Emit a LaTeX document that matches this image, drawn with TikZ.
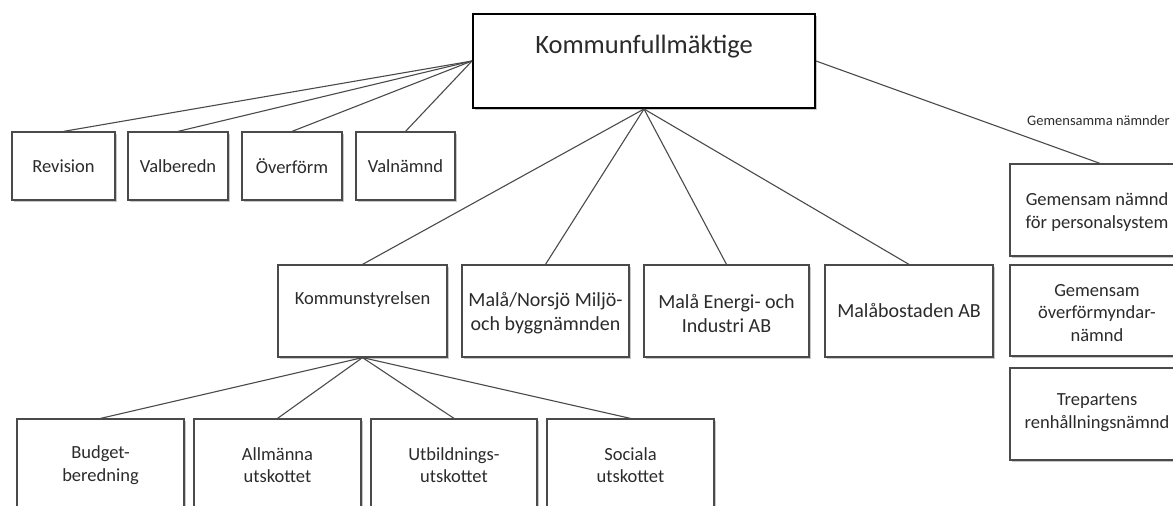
\documentclass[tikz,border=0pt]{standalone}
\usepackage{fontspec}
\setmainfont{Carlito}
\usetikzlibrary{shadows}
\definecolor{txt}{HTML}{2B2B2B}
\definecolor{edge}{HTML}{4A4A4A}
\tikzset{
  box/.style={draw=edge, line width=1.2pt, fill=white, inner sep=0pt,
    drop shadow={shadow xshift=1.6pt, shadow yshift=-1.6pt, fill=black, opacity=0.22}},
  topbox/.style={box, draw=black, line width=2pt},
  conn/.style={draw=edge, line width=1.1pt},
  lbl/.style={text=txt, align=center, inner sep=0pt, font=\fontsize{18.5}{22.5}\selectfont},
  lblbig/.style={lbl, font=\fontsize{20}{24}\selectfont},
}
\begin{document}
\begin{tikzpicture}[x=1pt,y=-1pt]
\useasboundingbox (0,0) rectangle (1173,506);
% top box
\node[topbox, minimum width=342pt, minimum height=94pt] (kf) at (644,61) {};
\node[lbl, font=\fontsize{26.5}{30}\selectfont] (tkf) at (644,47) {Kommunfullmäktige};
% first row
\node[box, minimum width=103pt, minimum height=68pt] (rev) at (63.5,166) {};
\node[box, minimum width=100pt, minimum height=68pt] (valb) at (178,166) {};
\node[box, minimum width=100pt, minimum height=68pt] (overf) at (292,166) {};
\node[box, minimum width=99pt, minimum height=68pt] (valn) at (405.5,166) {};
\node[lbl] (trev) at (63.5,166) {Revision};
\node[lbl] (tvalb) at (178,166) {Valberedn};
\node[lbl] (toverf) at (292,166) {Överförm};
\node[lbl] (tvaln) at (405.5,166) {Valnämnd};
% second row
\node[box, minimum width=169pt, minimum height=92pt] (ks) at (362.5,311) {};
\node[box, minimum width=167pt, minimum height=92pt] (mn) at (545.5,311) {};
\node[box, minimum width=165pt, minimum height=92pt] (me) at (726.5,311) {};
\node[box, minimum width=168pt, minimum height=92pt] (mb) at (909,311) {};
\node[lbl] (tks) at (362.5,300) {Kommunstyrelsen};
\node[lblbig] (tmn) at (545.5,313) {Malå/Norsjö Miljö-\\och byggnämnden};
\node[lblbig] (tme) at (726.5,313) {Malå Energi- och\\Industri AB};
\node[lblbig] (tmb) at (909,310) {Malåbostaden AB};
% third row
\node[box, minimum width=167pt, minimum height=106pt] (bud) at (100.5,472) {};
\node[box, minimum width=167pt, minimum height=106pt] (allm) at (277.5,472) {};
\node[box, minimum width=166pt, minimum height=106pt] (utb) at (454,472) {};
\node[box, minimum width=167pt, minimum height=106pt] (soc) at (630.5,472) {};
\node[lbl] (tbud) at (100.5,465) {Budget-\\beredning};
\node[lbl] (tallm) at (277.5,465) {Allmänna\\utskottet};
\node[lbl] (tutb) at (454,465) {Utbildnings-\\utskottet};
\node[lbl] (tsoc) at (630.5,465) {Sociala\\utskottet};
% right column
\node[box, minimum width=180pt, minimum height=92pt] (g1) at (1100,210) {};
\node[box, minimum width=180pt, minimum height=91pt] (g2) at (1100,310.5) {};
\node[box, minimum width=180pt, minimum height=92pt] (g3) at (1100,414) {};
\node[lbl] (tg1) at (1097,212) {Gemensam nämnd\\för personalsystem};
\node[lbl] (tg2) at (1097,313) {Gemensam\\överförmyndar-\\nämnd};
\node[lbl] (tg3) at (1097,412.5) {Trepartens\\renhållningsnämnd};
\node[lbl, font=\fontsize{14.5}{17}\selectfont, anchor=west] (tgem) at (1027,121) {Gemensamma nämnder};
% connectors
\draw[conn] (kf.west) -- (rev.north);
\draw[conn] (kf.west) -- (valb.north);
\draw[conn] (kf.west) -- (overf.north);
\draw[conn] (kf.west) -- (valn.north);
\draw[conn] (kf.south) -- (ks.north);
\draw[conn] (kf.south) -- (mn.north);
\draw[conn] (kf.south) -- (me.north);
\draw[conn] (kf.south) -- (mb.north);
\draw[conn] (kf.east) -- (g1.north);
\draw[conn] (ks.south) -- (bud.north);
\draw[conn] (ks.south) -- (allm.north);
\draw[conn] (ks.south) -- (utb.north);
\draw[conn] (ks.south) -- (soc.north);
\end{tikzpicture}
\end{document}
